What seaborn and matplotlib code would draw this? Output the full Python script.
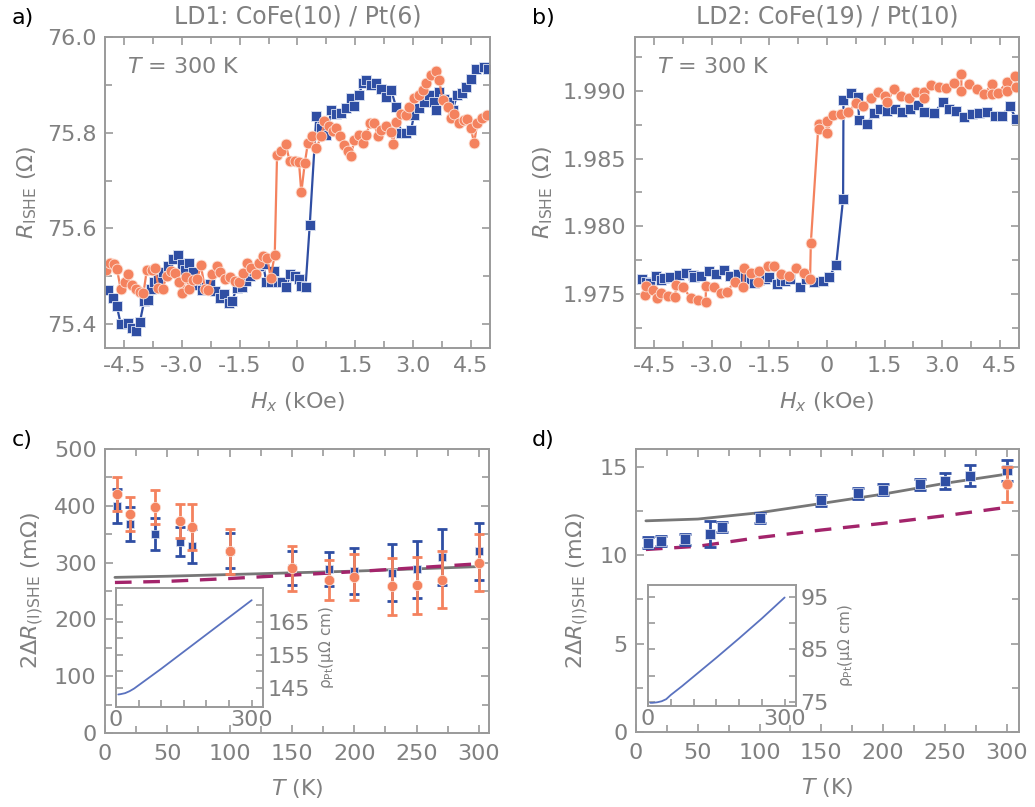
import matplotlib
matplotlib.use('Agg')
import matplotlib.pyplot as plt
import seaborn as sns
from matplotlib.ticker import MultipleLocator, FuncFormatter, FormatStrFormatter, FixedLocator

sns.set_style('ticks')
plt.rcParams['font.family'] = ['DejaVu Sans']
plt.rcParams['mathtext.fontset'] = 'dejavusans'
plt.rcParams['axes.unicode_minus'] = False

BLUE = '#2f4ea3'
ORANGE = '#f4825e'
TXT = '#808080'
SPINE = '#9a9a9a'
FIT = '#777777'
DASH = '#a3246b'
INSET = '#5a72bf'

# panel a: LD1, field sweeps at 300 K
a_blue_h = [-4.91, -4.78, -4.69, -4.59, -4.41, -4.30, -4.19, -4.09, -3.98, -3.89,
            -3.81, -3.72, -3.61, -3.48, -3.35, -3.24, -3.11, -3.01, -2.92, -2.81,
            -2.71, -2.60, -2.49, -2.38, -2.27, -2.14, -2.02, -1.91, -1.79, -1.69,
            -1.58, -1.45, -1.34, -1.24, -1.13, -1.00, -0.89, -0.81, -0.70, -0.61,
            -0.51, -0.39, -0.29, -0.19, -0.07, 0.03, 0.10, 0.21, 0.32, 0.49,
            0.62, 0.75, 0.88, 1.01, 1.13, 1.26, 1.39, 1.48, 1.59, 1.70,
            1.78, 1.91, 2.04, 2.17, 2.30, 2.43, 2.56, 2.69, 2.82, 2.95,
            3.03, 3.16, 3.29, 3.42, 3.55, 3.59, 3.68, 3.81, 3.94, 4.03,
            4.15, 4.28, 4.37, 4.50, 4.63, 4.84, 4.96]
a_blue_r = [75.471, 75.454, 75.437, 75.400, 75.403, 75.391, 75.386, 75.405, 75.449, 75.450,
            75.474, 75.488, 75.495, 75.508, 75.521, 75.535, 75.544, 75.525, 75.514, 75.528,
            75.508, 75.481, 75.471, 75.478, 75.483, 75.469, 75.455, 75.462, 75.445, 75.449,
            75.476, 75.478, 75.490, 75.501, 75.511, 75.521, 75.525, 75.487, 75.488, 75.511,
            75.487, 75.488, 75.478, 75.504, 75.501, 75.494, 75.480, 75.478, 75.608, 75.834,
            75.809, 75.795, 75.847, 75.840, 75.842, 75.851, 75.872, 75.856, 75.879, 75.903,
            75.911, 75.899, 75.904, 75.892, 75.875, 75.890, 75.854, 75.800, 75.799, 75.806,
            75.837, 75.851, 75.865, 75.879, 75.865, 75.847, 75.886, 75.870, 75.865, 75.847,
            75.879, 75.883, 75.895, 75.913, 75.934, 75.938, 75.934]
a_orange_h = [-4.97, -4.86, -4.76, -4.69, -4.59, -4.47, -4.39, -4.30, -4.19, -4.09,
              -4.00, -3.91, -3.78, -3.70, -3.61, -3.50, -3.40, -3.29, -3.18, -3.08,
              -2.99, -2.90, -2.81, -2.71, -2.60, -2.51, -2.40, -2.32, -2.21, -2.10,
              -2.00, -1.89, -1.76, -1.63, -1.52, -1.41, -1.31, -1.20, -1.08, -1.00,
              -0.89, -0.78, -0.70, -0.59, -0.53, -0.42, -0.31, -0.20, -0.07, 0.04,
              0.10, 0.19, 0.27, 0.38, 0.49, 0.62, 0.70, 0.82, 0.92, 1.01,
              1.11, 1.22, 1.31, 1.39, 1.48, 1.59, 1.70, 1.78, 1.89, 2.00,
              2.08, 2.17, 2.30, 2.43, 2.49, 2.56, 2.69, 2.82, 2.90, 3.03,
              3.15, 3.25, 3.33, 3.46, 3.59, 3.68, 3.77, 3.90, 3.98, 4.07,
              4.20, 4.33, 4.41, 4.50, 4.59, 4.67, 4.80, 4.93]
a_orange_r = [75.514, 75.528, 75.525, 75.516, 75.473, 75.488, 75.504, 75.481, 75.474, 75.467,
              75.465, 75.514, 75.513, 75.518, 75.476, 75.474, 75.501, 75.511, 75.506, 75.487,
              75.464, 75.499, 75.474, 75.492, 75.494, 75.523, 75.473, 75.471, 75.504, 75.521,
              75.508, 75.494, 75.498, 75.490, 75.487, 75.506, 75.528, 75.518, 75.504, 75.528,
              75.542, 75.539, 75.497, 75.544, 75.754, 75.761, 75.777, 75.740, 75.740, 75.738,
              75.675, 75.736, 75.778, 75.792, 75.768, 75.793, 75.825, 75.813, 75.804, 75.809,
              75.792, 75.775, 75.761, 75.752, 75.785, 75.795, 75.778, 75.795, 75.821, 75.820,
              75.792, 75.806, 75.814, 75.802, 75.777, 75.823, 75.840, 75.837, 75.854, 75.872,
              75.879, 75.889, 75.903, 75.920, 75.929, 75.910, 75.868, 75.853, 75.830, 75.840,
              75.820, 75.827, 75.828, 75.809, 75.779, 75.820, 75.830, 75.837]

# panel b: LD2, field sweeps at 300 K
b_blue_h = [-4.82, -4.71, -4.61, -4.46, -4.31, -4.25, -4.08, -3.86, -3.67, -3.50,
            -3.46, -3.29, -3.08, -2.89, -2.68, -2.52, -2.31, -2.14, -1.97, -1.89,
            -1.76, -1.61, -1.50, -1.31, -1.20, -1.09, -0.95, -0.71, -0.54, -0.34,
            -0.11, 0.06, 0.24, 0.42, 0.43, 0.63, 0.80, 0.84, 1.05, 1.22,
            1.39, 1.57, 1.78, 1.95, 2.16, 2.37, 2.54, 2.80, 3.01, 3.18,
            3.35, 3.57, 3.78, 3.95, 4.16, 4.38, 4.55, 4.76, 4.93]
b_blue_r = [1.97609, 1.97591, 1.97579, 1.97633, 1.97604, 1.97616, 1.97624, 1.97641, 1.97658, 1.97641,
            1.97624, 1.97633, 1.97666, 1.97648, 1.97673, 1.97633, 1.97648, 1.97628, 1.97609, 1.97584,
            1.97604, 1.97609, 1.97628, 1.97574, 1.97596, 1.97596, 1.97609, 1.97549, 1.97609, 1.97591,
            1.97599, 1.97628, 1.97715, 1.98202, 1.98933, 1.98988, 1.98958, 1.98785, 1.98760, 1.98839,
            1.98869, 1.98852, 1.98869, 1.98844, 1.98864, 1.98894, 1.98844, 1.98839, 1.98918, 1.98864,
            1.98852, 1.98810, 1.98827, 1.98834, 1.98844, 1.98815, 1.98815, 1.98889, 1.98790]
b_orange_h = [-4.74, -4.70, -4.53, -4.42, -4.31, -4.14, -3.95, -3.93, -3.74, -3.55,
              -3.35, -3.16, -3.15, -2.95, -2.75, -2.61, -2.40, -2.18, -2.16, -1.97,
              -1.80, -1.76, -1.54, -1.39, -1.20, -0.99, -0.80, -0.61, -0.44, -0.42,
              -0.22, -0.20, -0.01, -0.01, 0.16, 0.37, 0.54, 0.76, 0.94, 1.14,
              1.34, 1.52, 1.57, 1.74, 1.93, 2.14, 2.33, 2.54, 2.54, 2.72,
              2.93, 3.10, 3.31, 3.50, 3.50, 3.69, 3.91, 4.08, 4.29, 4.29,
              4.46, 4.69, 4.69, 4.89, 4.93]
b_orange_r = [1.97493, 1.97559, 1.97530, 1.97473, 1.97505, 1.97485, 1.97480, 1.97567, 1.97549, 1.97468,
              1.97456, 1.97443, 1.97559, 1.97554, 1.97505, 1.97517, 1.97591, 1.97549, 1.97690, 1.97653,
              1.97591, 1.97666, 1.97703, 1.97708, 1.97648, 1.97633, 1.97690, 1.97658, 1.97609, 1.97876,
              1.98760, 1.98716, 1.98778, 1.98691, 1.98820, 1.98827, 1.98844, 1.98909, 1.98889, 1.98951,
              1.98993, 1.98963, 1.98918, 1.99012, 1.98963, 1.98951, 1.98993, 1.98993, 1.98951, 1.99042,
              1.99032, 1.99025, 1.99062, 1.99124, 1.99000, 1.99049, 1.99017, 1.98975, 1.99049, 1.98975,
              1.98988, 1.99067, 1.99000, 1.99111, 1.99032]

# panels c, d: amplitude vs temperature
temps = [10, 20, 40, 60, 70, 100, 150, 180, 200, 230, 250, 270, 300]
c_blue = [400, 368, 350, 337, 330, 321, 291, 288, 285, 282, 288, 310, 320]
c_blue_err = [30, 30, 28, 25, 30, 31, 30, 30, 40, 50, 50, 50, 50]
c_orange = [420, 385, 398, 373, 363, 320, 290, 270, 275, 258, 260, 270, 300]
c_orange_err = [30, 30, 30, 30, 40, 40, 40, 35, 40, 50, 50, 50, 50]

d_blue = [10.7, 10.8, 10.9, 11.2, 11.6, 12.1, 13.1, 13.5, 13.7, 14.0, 14.2, 14.5, 14.8]
d_blue_err = [0.3, 0.3, 0.3, 0.75, 0.3, 0.3, 0.3, 0.3, 0.3, 0.3, 0.45, 0.6, 0.6]
d_orange_t = [300]
d_orange = [14.0]
d_orange_err = [1.0]

fit_t = [8, 50, 100, 150, 200, 250, 300]
c_fit = [274, 276, 279, 282, 285, 289, 293]
c_dash = [265, 267, 272, 278, 284, 291, 298]
d_fit = [11.94, 12.04, 12.40, 12.92, 13.45, 14.06, 14.58]
d_dash = [10.32, 10.50, 11.00, 11.42, 11.80, 12.23, 12.70]

# insets: Pt resistivity
rho_t = [5, 10, 20, 30, 40, 50, 75, 100, 150, 200, 250, 300]
rho_c = [143.0, 143.1, 143.4, 144.0, 144.8, 145.8, 148.3, 150.8, 156.0, 161.2, 166.4, 171.6]
rho_d = [74.8, 74.8, 74.9, 75.1, 75.5, 76.3, 78.0, 79.8, 83.4, 87.1, 90.9, 94.9]

FS = 16


def style(ax, xmaj, xmin, ymaj, ymin):
    for s in ax.spines.values():
        s.set_color(SPINE)
        s.set_linewidth(1.4)
    ax.xaxis.set_major_locator(MultipleLocator(xmaj))
    ax.xaxis.set_minor_locator(MultipleLocator(xmin))
    ax.yaxis.set_major_locator(MultipleLocator(ymaj))
    ax.yaxis.set_minor_locator(MultipleLocator(ymin))
    ax.tick_params(which='both', direction='in', top=True, right=True,
                   color=SPINE, labelcolor=TXT, labelsize=FS, width=1.2, pad=6)
    ax.tick_params(which='major', length=6)
    ax.tick_params(which='minor', length=5)


def hfmt(v, p):
    return '0' if abs(v) < 1e-9 else f'{v:.1f}'


fig = plt.figure(figsize=(10.35, 8.07), dpi=100)
ax_a = fig.add_axes([0.1014, 0.5688, 0.3720, 0.3854])
ax_b = fig.add_axes([0.6135, 0.5688, 0.3710, 0.3854])
ax_c = fig.add_axes([0.1014, 0.0917, 0.3710, 0.3519])
ax_d = fig.add_axes([0.6145, 0.0929, 0.3700, 0.3507])

# field sweeps
for ax, bh, br, oh, orr in [(ax_a, a_blue_h, a_blue_r, a_orange_h, a_orange_r),
                            (ax_b, b_blue_h, b_blue_r, b_orange_h, b_orange_r)]:
    sns.lineplot(x=bh, y=br, ax=ax, color=BLUE, lw=1.6, marker='s', markersize=6.5,
                 markeredgecolor='#dde3f2', markeredgewidth=0.6, estimator=None, sort=False)
    sns.lineplot(x=oh, y=orr, ax=ax, color=ORANGE, lw=1.6, marker='o', markersize=7.8,
                 markeredgecolor='#fde3d8', markeredgewidth=0.6, estimator=None, sort=False)
    ax.set_xlim(-5, 5)
    style(ax, 1.5, 0.75, 1, 1)
    ax.xaxis.set_major_formatter(FuncFormatter(hfmt))
    ax.set_xlabel('$H_x$ (kOe)', fontsize=FS, color=TXT, labelpad=10)
    ax.set_ylabel(r'$R_{\mathrm{ISHE}}$ (Ω)', fontsize=FS, color=TXT, labelpad=6)
    ax.text(0.057, 0.904, '$T$ = 300 K', transform=ax.transAxes, fontsize=FS,
            color=TXT, va='center', ha='left')

ax_a.set_ylim(75.35, 76.0)
ax_a.yaxis.set_major_locator(MultipleLocator(0.2))
ax_a.yaxis.set_minor_locator(MultipleLocator(0.1))
ax_a.yaxis.set_major_formatter(FormatStrFormatter('%.1f'))
ax_b.set_ylim(1.971, 1.994)
ax_b.yaxis.set_major_locator(MultipleLocator(0.005))
ax_b.yaxis.set_minor_locator(MultipleLocator(0.0025))
ax_b.yaxis.set_major_formatter(FormatStrFormatter('%.3f'))

# temperature dependence
for ax, fit, dash in [(ax_c, c_fit, c_dash), (ax_d, d_fit, d_dash)]:
    sns.lineplot(x=fit_t, y=fit, ax=ax, color=FIT, lw=2.0, estimator=None, zorder=2)
    sns.lineplot(x=fit_t, y=dash, ax=ax, color=DASH, lw=2.4, estimator=None, zorder=2,
                 dashes=False, linestyle=(0, (5, 3.5)))

ax_c.errorbar(temps, c_blue, yerr=c_blue_err, fmt='none', ecolor=BLUE, elinewidth=2,
              capsize=3.5, capthick=2, zorder=3)
sns.scatterplot(x=temps, y=c_blue, ax=ax_c, color=BLUE, marker='s', s=28,
                edgecolor='#dde3f2', linewidth=0.5, zorder=4)
ax_c.errorbar(temps, c_orange, yerr=c_orange_err, fmt='none', ecolor=ORANGE, elinewidth=2,
              capsize=3.5, capthick=2, zorder=5)
sns.scatterplot(x=temps, y=c_orange, ax=ax_c, color=ORANGE, marker='o', s=55,
                edgecolor='#fde3d8', linewidth=0.5, zorder=6)

ax_d.errorbar(temps, d_blue, yerr=d_blue_err, fmt='none', ecolor=BLUE, elinewidth=2,
              capsize=4, capthick=2, zorder=3)
sns.scatterplot(x=temps, y=d_blue, ax=ax_d, color=BLUE, marker='s', s=45,
                edgecolor='#dde3f2', linewidth=0.5, zorder=4)
ax_d.errorbar(d_orange_t, d_orange, yerr=d_orange_err, fmt='none', ecolor=ORANGE,
              elinewidth=2, capsize=4, capthick=2, zorder=5)
sns.scatterplot(x=d_orange_t, y=d_orange, ax=ax_d, color=ORANGE, marker='o', s=60,
                edgecolor='#fde3d8', linewidth=0.5, zorder=6)

ax_c.set_xlim(0, 308)
ax_c.set_ylim(0, 500)
style(ax_c, 50, 25, 100, 50)
ax_d.set_xlim(0, 310)
ax_d.set_ylim(0, 16)
style(ax_d, 50, 25, 5, 2.5)
for ax in (ax_c, ax_d):
    ax.tick_params(axis='x', pad=8)
    ax.set_xlabel('$T$ (K)', fontsize=FS, color=TXT, labelpad=9)
    ax.set_ylabel(r'2Δ$R_{\mathrm{(I)SHE}}$ (mΩ)', fontsize=FS, color=TXT, labelpad=6)

# insets
in_c = fig.add_axes([0.1121, 0.1239, 0.1420, 0.1475])
in_d = fig.add_axes([0.6261, 0.1252, 0.1430, 0.1500])
for ax, rho, lo, hi, ticks in [(in_c, rho_c, 139.2, 175.3, [145, 155, 165]),
                               (in_d, rho_d, 74.2, 97.3, [75, 85, 95])]:
    sns.lineplot(x=rho_t, y=rho, ax=ax, color=INSET, lw=1.3, estimator=None)
    ax.set_xlim(0, 325)
    ax.set_ylim(lo, hi)
    for s in ax.spines.values():
        s.set_color(SPINE)
        s.set_linewidth(1.4)
    ax.xaxis.set_major_locator(FixedLocator([0, 50, 100, 150, 200, 250, 300]))
    ax.set_xticklabels(['0', '', '', '', '', '', '300'])
    ax.yaxis.set_major_locator(FixedLocator(ticks))
    ax.yaxis.set_minor_locator(FixedLocator([t + 5 for t in ticks]))
    ax.tick_params(which='both', direction='in', left=True, right=True, labelleft=False,
                   labelright=True, color=SPINE, labelcolor=TXT, labelsize=FS, width=1.2,
                   length=5)
    ax.tick_params(axis='x', pad=2)
    ax.tick_params(axis='y', pad=3)
    ax.yaxis.set_label_position('right')
    ax.set_ylabel(r'$\mathrm{ρ}_{\mathrm{Pt}}$(μΩ cm)', fontsize=11, color=TXT, labelpad=5)
    ax.set_xlabel('')

# titles and panel letters
fig.text(0.2874, 0.979, 'LD1: CoFe(10) / Pt(6)', fontsize=17, color=TXT, ha='center', va='center')
fig.text(0.7990, 0.979, 'LD2: CoFe(19) / Pt(10)', fontsize=17, color=TXT, ha='center', va='center')
for x, y, lab in [(0.0116, 0.978, 'a)'), (0.514, 0.978, 'b)'),
                  (0.0116, 0.455, 'c)'), (0.514, 0.455, 'd)')]:
    fig.text(x, y, lab, fontsize=FS, color='black', ha='left', va='center')

fig.savefig('out.png', dpi=100)
